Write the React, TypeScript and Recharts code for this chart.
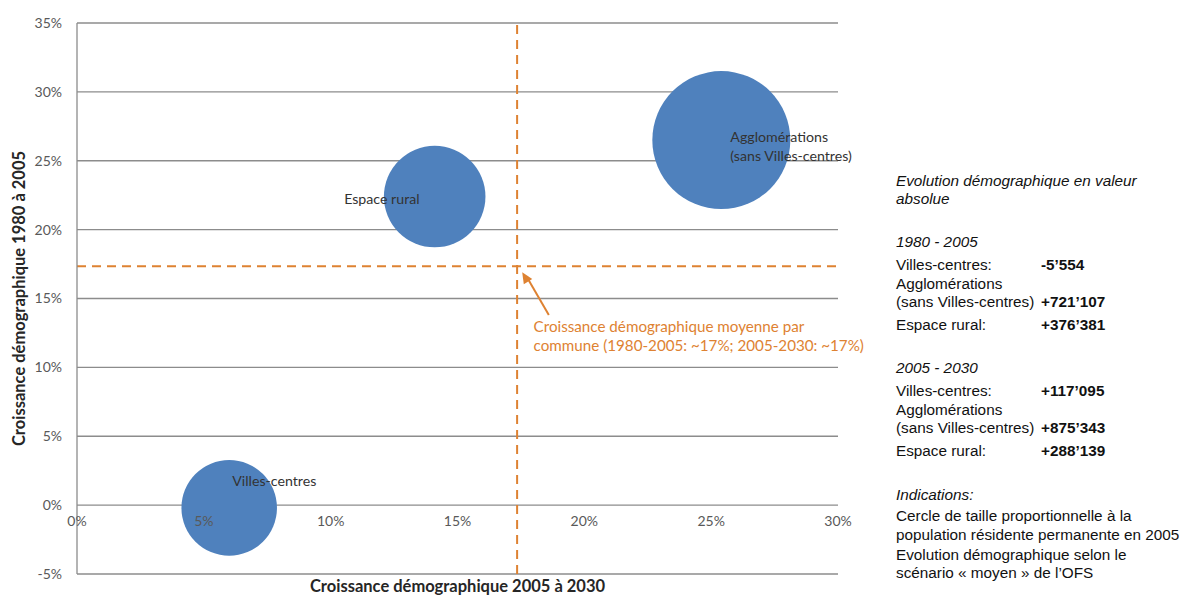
import {
  ScatterChart,
  Scatter,
  XAxis,
  YAxis,
  ZAxis,
  CartesianGrid,
  ReferenceLine,
  ReferenceDot,
} from "recharts";

// Bubble data (values in %)
const regions = ["Villes-centres", "Espace rural", "Agglomérations"];
const bubbleLabels = [["Villes-centres"], ["Espace rural"], ["Agglomérations", "(sans Villes-centres)"]];
const growth2005to2030 = [6.0, 14.1, 25.4];
const growth1980to2005 = [-0.2, 22.4, 26.5];
// population 2005 (thousands)
const population2005 = [1380, 1560, 2880];

const xTicks = [0, 5, 10, 15, 20, 25, 30];
const yTicks = [-5, 0, 5, 10, 15, 20, 25, 30, 35];
const averageGrowth = 17.35;

// Right-hand panel
const panelTitle = ["Evolution démographique en valeur", "absolue"];
const periods = ["1980 - 2005", "2005 - 2030"];
const panelLabels = ["Villes-centres:", "Agglomérations", "(sans Villes-centres)", "Espace rural:"];
const values1980 = ["-5’554", "", "+721’107", "+376’381"];
const values2005 = ["+117’095", "", "+875’343", "+288’139"];
const notes = [
  "Indications:",
  "Cercle de taille proportionnelle à la",
  "population résidente permanente en 2005",
  "Evolution démographique selon le",
  "scénario « moyen » de l’OFS",
];

const data = regions.map((name, i) => ({
  name,
  x: growth2005to2030[i],
  y: growth1980to2005[i],
  z: population2005[i],
  lines: bubbleLabels[i],
}));

const ORANGE = "#DE8232";
const BLUE = "#4F81BD";
const GRID = "#8c8c8c";
const FONT = "Lato, 'Open Sans', sans-serif";

// label placement relative to bubble centre
const labelStyle = [
  { dx: 3, dy: -22, anchor: "start" },
  { dx: -15, dy: 7, anchor: "end" },
  { dx: 9, dy: 2, anchor: "start" },
];

function Bubble(props: any) {
  const { cx, cy, payload } = props;
  const r = props.width ? props.width / 2 : Math.sqrt((props.size || 0) / Math.PI);
  const idx = regions.indexOf(payload.name);
  const ls = labelStyle[idx];
  return (
    <g>
      <circle cx={cx} cy={cy} r={r} fill={BLUE} />
      <text
        x={cx + ls.dx}
        y={cy + ls.dy}
        textAnchor={ls.anchor as any}
        fontFamily={FONT}
        fontSize={14.2}
        fill="#333"
      >
        {payload.lines.map((l: string, k: number) => (
          <tspan key={k} x={cx + ls.dx} dy={k === 0 ? 0 : 19}>
            {l}
          </tspan>
        ))}
      </text>
    </g>
  );
}

function ArrowHead(props: any) {
  const { cx, cy } = props;
  const ang = Math.atan2(43, 27); // direction tail -> tip is up-left
  const ux = Math.cos(ang);
  const uy = Math.sin(ang);
  const len = 11;
  const hw = 5;
  const bx = cx + ux * len;
  const by = cy + uy * len;
  const pts = `${cx},${cy} ${bx - uy * hw},${by + ux * hw} ${bx + uy * hw},${by - ux * hw}`;
  return <polygon points={pts} fill={ORANGE} />;
}

function Note(props: any) {
  const { cx, cy } = props;
  return (
    <text x={cx} y={cy} fontFamily={FONT} fontSize={15.2} fill={ORANGE}>
      <tspan x={cx}>Croissance démographique moyenne par</tspan>
      <tspan x={cx} dy={19}>
        commune (1980-2005: ~17%; 2005-2030: ~17%)
      </tspan>
    </text>
  );
}

const rowStyle = (top: number, left: number, extra?: any) => ({
  position: "absolute" as const,
  top: top - 10,
  left,
  lineHeight: "20px",
  fontSize: 15.3,
  whiteSpace: "nowrap" as const,
  ...extra,
});

function Panel() {
  const block = (top: number, vals: string[], period: string) => (
    <>
      <div style={rowStyle(top, 896, { fontStyle: "italic" })}>{period}</div>
      {panelLabels.map((l, i) => {
        const t = top + [23, 42, 60, 83][i];
        return (
          <div key={l}>
            <div style={rowStyle(t, 896)}>{l}</div>
            {vals[i] && <div style={rowStyle(t, 1041, { fontWeight: "bold" })}>{vals[i]}</div>}
          </div>
        );
      })}
    </>
  );
  return (
    <div style={{ fontFamily: "'Liberation Sans', Arial, sans-serif", color: "#111" }}>
      {panelTitle.map((t, i) => (
        <div key={t} style={rowStyle(181 + i * 18, 896, { fontStyle: "italic" })}>
          {t}
        </div>
      ))}
      {block(242, values1980, periods[0])}
      {block(368, values2005, periods[1])}
      {notes.map((t, i) => (
        <div key={t} style={rowStyle(495 + [0, 21, 40, 60, 78][i], 896, i === 0 ? { fontStyle: "italic" } : {})}>
          {t}
        </div>
      ))}
    </div>
  );
}

export default function App() {
  return (
    <div style={{ position: "absolute", left: 0, top: 0, width: 1184, height: 597, background: "#fff" }}>
      <ScatterChart
        width={1184}
        height={597}
        margin={{ top: 23, right: 346, bottom: 0, left: 0 }}
        style={{ fontFamily: FONT }}
      >
        <CartesianGrid vertical={false} stroke={GRID} strokeWidth={1.3} />
        <XAxis
          type="number"
          dataKey="x"
          domain={[0, 30]}
          ticks={xTicks}
          tick={false}
          tickLine={false}
          axisLine={false}
          height={23}
          label={{
            value: "Croissance démographique 2005 à 2030",
            position: "insideBottom",
            offset: 5,
            fontSize: 16.5,
            fontWeight: "bold",
            fill: "#262626",
          }}
        />
        <YAxis
          type="number"
          dataKey="y"
          domain={[-5, 35]}
          ticks={yTicks}
          width={77}
          tickLine={false}
          tickMargin={9}
          axisLine={{ stroke: GRID, strokeWidth: 1.3 }}
          tick={{ fill: "#595959", fontSize: 14 }}
          tickFormatter={(v) => `${v}%`}
          label={{
            value: "Croissance démographique 1980 à 2005",
            angle: -90,
            position: "insideLeft",
            offset: 19,
            style: { textAnchor: "middle" },
            fontSize: 16.5,
            fontWeight: "bold",
            fill: "#262626",
          }}
        />
        <ZAxis type="number" dataKey="z" domain={[0, 2880]} range={[0, Math.PI * 69 * 69]} />
        <ReferenceLine y={averageGrowth} stroke={ORANGE} strokeWidth={2} strokeDasharray="9 6" />
        <ReferenceLine x={averageGrowth} stroke={ORANGE} strokeWidth={2} strokeDasharray="9 6" />
        <Scatter data={data} shape={<Bubble />} isAnimationActive={false} />
        {xTicks.map((t) => (
          <ReferenceDot
            key={t}
            x={t}
            y={0}
            r={0}
            fill="none"
            stroke="none"
            label={{ value: `${t}%`, position: "bottom", offset: 11, fill: "#595959", fontSize: 14 }}
          />
        ))}
        <ReferenceLine
          segment={[
            { x: 18.6, y: 13.8 },
            { x: 17.75, y: 16.5 },
          ]}
          stroke={ORANGE}
          strokeWidth={2}
        />
        <ReferenceDot x={17.55} y={16.9} shape={<ArrowHead />} />
        <ReferenceDot x={18.0} y={12.55} shape={<Note />} />
      </ScatterChart>
      <Panel />
    </div>
  );
}
